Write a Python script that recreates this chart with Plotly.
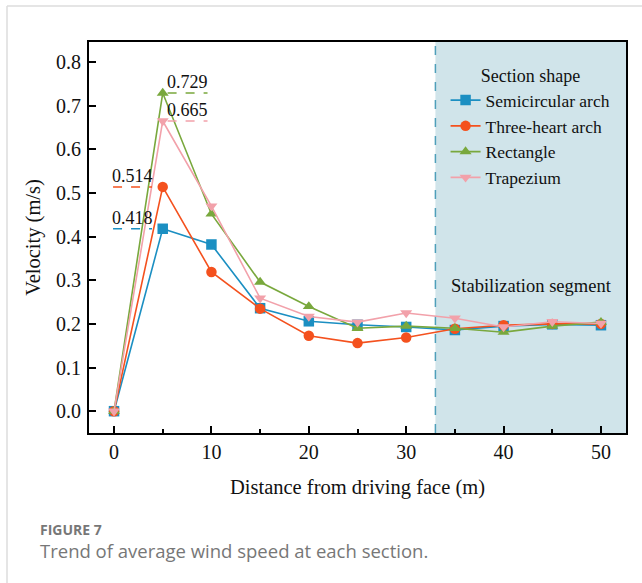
import plotly.graph_objects as go

distance = [0, 5, 10, 15, 20, 25, 30, 35, 40, 45, 50]
semicircular = [0.0, 0.418, 0.382, 0.236, 0.206, 0.198, 0.193, 0.186, 0.195, 0.199, 0.197]
three_heart = [0.0, 0.514, 0.319, 0.235, 0.173, 0.156, 0.169, 0.189, 0.197, 0.200, 0.200]
rectangle = [0.0, 0.729, 0.452, 0.296, 0.240, 0.190, 0.195, 0.190, 0.181, 0.195, 0.204]
trapezium = [0.0, 0.665, 0.470, 0.259, 0.217, 0.204, 0.225, 0.213, 0.193, 0.205, 0.201]

series_names = ["Semicircular arch", "Three-heart arch", "Rectangle", "Trapezium"]
series_values = [semicircular, three_heart, rectangle, trapezium]
colors = ["#1b8fc2", "#f4511e", "#79a83d", "#f2a1aa"]
symbols = ["square", "circle", "triangle-up", "triangle-down"]

peak_labels = ["0.418", "0.514", "0.729", "0.665"]
stab_start = 33

SERIF = "Liberation Serif"

fig = go.Figure()

for name, vals, c, s in zip(series_names, series_values, colors, symbols):
    fig.add_trace(go.Scatter(
        x=distance, y=vals, name=name, mode="lines+markers",
        line=dict(color=c, width=1.6),
        marker=dict(symbol=s, size=10.5, color=c),
    ))

# stabilization shading
fig.add_shape(type="rect", xref="x", yref="paper", x0=stab_start, x1=60, y0=0, y1=1,
              fillcolor="#d0e4ea", line=dict(width=0), layer="below")
fig.add_shape(type="line", xref="x", yref="paper", x0=stab_start, x1=stab_start, y0=0, y1=1,
              line=dict(color="#4f9fba", width=1.5, dash="dash"), layer="below")

# peak annotations
peak_vals = [semicircular[1], three_heart[1], rectangle[1], trapezium[1]]
left_side = [True, True, False, False]
for lab, v, c, left in zip(peak_labels, peak_vals, colors, left_side):
    if left:
        x0, x1 = -0.1, 3.9
    else:
        x0, x1 = 5.5, 9.6
    fig.add_shape(type="line", xref="x", yref="y", x0=x0, x1=x1, y0=v, y1=v,
                  line=dict(color=c, width=1.5, dash="dash"))
    fig.add_annotation(x=(x0 + x1) / 2, y=v, xref="x", yref="y", text=lab,
                       showarrow=False, yanchor="bottom", yshift=-1,
                       font=dict(family=SERIF, size=18, color="#111"))

fig.add_annotation(x=42.9, y=0.286, xref="x", yref="y", text="Stabilization segment",
                   showarrow=False, font=dict(family=SERIF, size=18.5, color="#111"))

# page border
bx = (7 - 89) / 537
fig.add_shape(type="line", xref="paper", yref="paper", x0=bx, x1=1.2,
              y0=(433 - 6) / 391, y1=(433 - 6) / 391,
              line=dict(color="#dddddd", width=1.5))
fig.add_shape(type="line", xref="paper", yref="paper", x0=bx, x1=bx,
              y0=(433 - 600) / 391, y1=(433 - 6) / 391,
              line=dict(color="#dddddd", width=1.5))

# caption
fig.add_annotation(x=(38 - 89) / 537, y=(433 - 529) / 391, xref="paper", yref="paper",
                   text="<b>FIGURE 7</b>", showarrow=False, xanchor="left", yanchor="middle",
                   font=dict(family="Open Sans", size=14, color="#777777"))
fig.add_annotation(x=(38 - 89) / 537, y=(433 - 550) / 391, xref="paper", yref="paper",
                   text="Trend of average wind speed at each section.", showarrow=False,
                   xanchor="left", yanchor="middle",
                   font=dict(family="Open Sans", size=18.5, color="#777777"))

fig.update_layout(
    width=642, height=583,
    margin=dict(l=89, r=16, t=42, b=150),
    plot_bgcolor="white", paper_bgcolor="white",
    font=dict(family=SERIF, size=18, color="#111"),
    legend=dict(
        x=0.664, y=0.957, xanchor="left", yanchor="top",
        bgcolor="rgba(0,0,0,0)",
        title=dict(text="Section shape", side="top center", font=dict(family=SERIF, size=18)),
        font=dict(family=SERIF, size=17.5),
        tracegroupgap=0, itemwidth=30,
    ),
    xaxis=dict(
        range=[-2.57, 52.57], tickvals=[0, 10, 20, 30, 40, 50],
        ticks="inside", ticklen=7, tickwidth=1.5, tickcolor="black",
        minor=dict(tickvals=[5, 15, 25, 35, 45], ticks="inside", ticklen=4, tickwidth=1.5, tickcolor="black"),
        showline=True, linecolor="black", linewidth=2, mirror=True,
        showgrid=False, zeroline=False,
        title=dict(text="Distance from driving face (m)", font=dict(family=SERIF, size=20.5), standoff=18),
        tickfont=dict(family=SERIF, size=20),
        ticklabelstandoff=0,
    ),
    yaxis=dict(
        range=[-0.05, 0.846], tickvals=[0, 0.1, 0.2, 0.3, 0.4, 0.5, 0.6, 0.7, 0.8],
        tickformat=".1f",
        ticks="inside", ticklen=7, tickwidth=1.5, tickcolor="black",
        showline=True, linecolor="black", linewidth=2, mirror=True,
        showgrid=False, zeroline=False,
        title=dict(text="Velocity (m/s)", font=dict(family=SERIF, size=20.5), standoff=10),
        tickfont=dict(family=SERIF, size=20),
        ticklabelstandoff=2,
    ),
)

fig.write_html("out.html")
